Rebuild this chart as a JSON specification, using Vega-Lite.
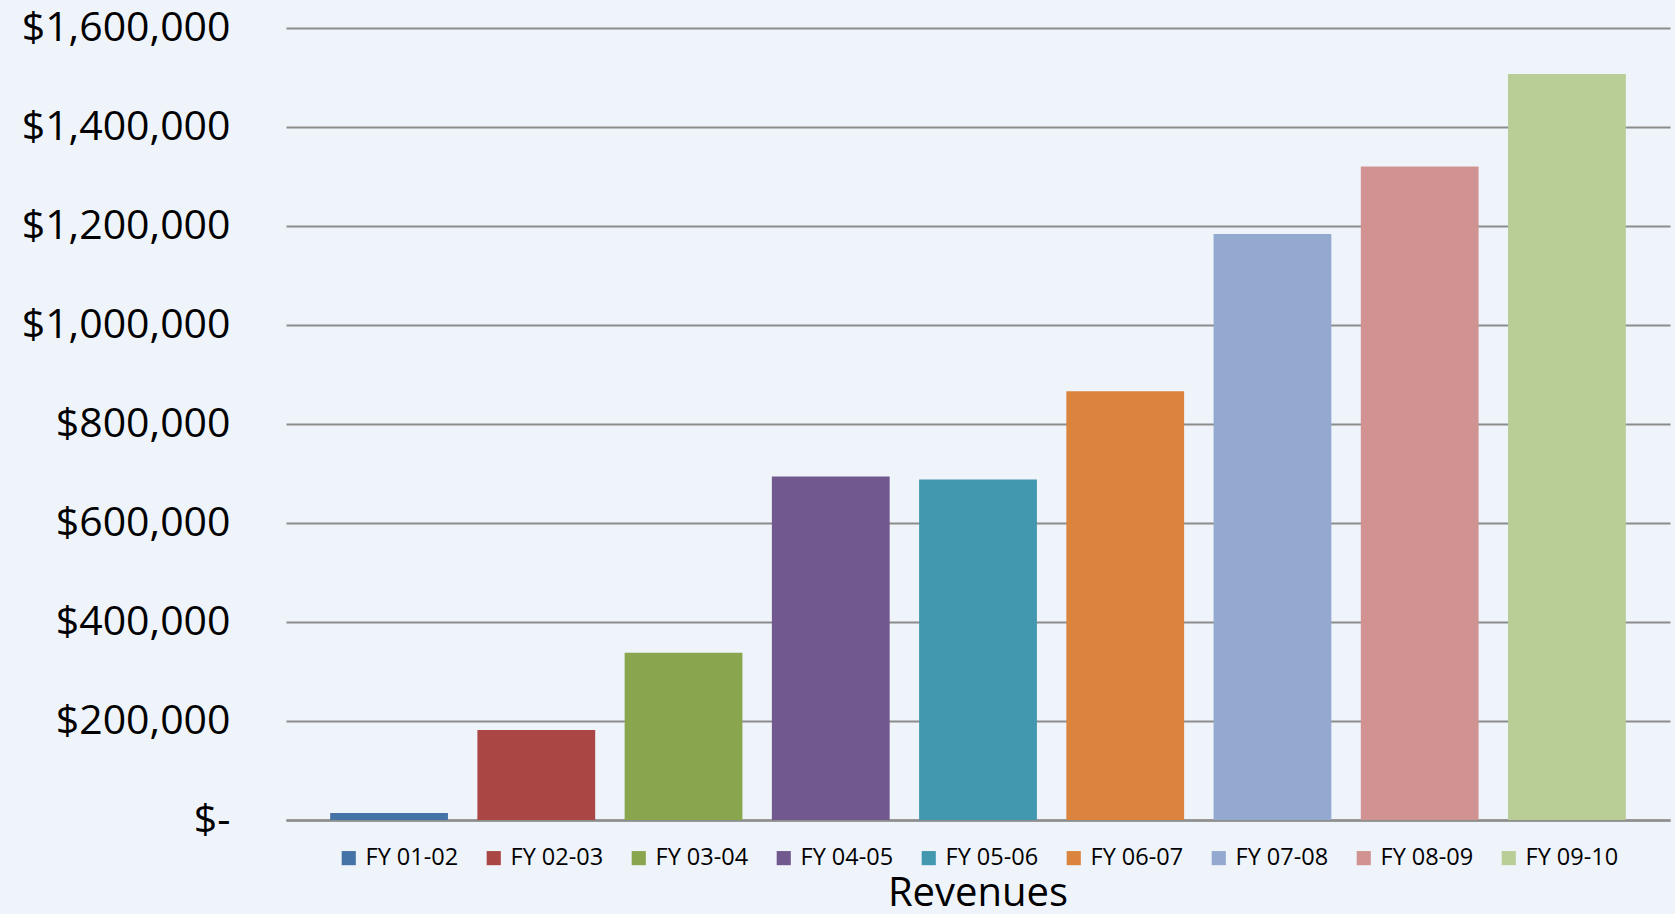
{
  "$schema": "https://vega.github.io/schema/vega-lite/v6.json",
  "autosize": "none",
  "width": 1384,
  "height": 792,
  "padding": {"left": 286, "top": 28, "right": 5, "bottom": 94},
  "background": "#eff4fb",
  "title": {
    "text": "Revenues",
    "orient": "bottom",
    "anchor": "middle",
    "font": "Open Sans",
    "fontSize": 40,
    "fontWeight": "normal",
    "color": "#000000",
    "offset": 4
  },
  "data": {
    "values": [
      {"year": "FY 01-02", "revenue": 14000},
      {"year": "FY 02-03", "revenue": 182000},
      {"year": "FY 03-04", "revenue": 338000},
      {"year": "FY 04-05", "revenue": 694000},
      {"year": "FY 05-06", "revenue": 688000},
      {"year": "FY 06-07", "revenue": 866000},
      {"year": "FY 07-08", "revenue": 1184000},
      {"year": "FY 08-09", "revenue": 1320000},
      {"year": "FY 09-10", "revenue": 1507000}
    ]
  },
  "mark": {"type": "bar"},
  "encoding": {
    "x": {
      "field": "year",
      "type": "nominal",
      "sort": null,
      "scale": {"paddingInner": 0.2, "paddingOuter": 0.3},
      "axis": {
        "labels": false,
        "ticks": false,
        "title": null,
        "domain": true,
        "domainColor": "#8e8e8e",
        "domainWidth": 2.5
      }
    },
    "y": {
      "field": "revenue",
      "type": "quantitative",
      "scale": {"domain": [0, 1600000], "nice": false},
      "axis": {
        "values": [0, 200000, 400000, 600000, 800000, 1000000, 1200000, 1400000, 1600000],
        "labelExpr": "datum.value == 0 ? '$-\u00a0\u00a0' : '$' + format(datum.value, ',')",
        "labelFont": "Open Sans",
        "labelFontSize": 41,
        "labelLimit": 0,
        "labelColor": "#000000",
        "labelPadding": 56,
        "ticks": false,
        "domain": false,
        "grid": true,
        "gridColor": "#8c8c8c",
        "gridWidth": 2,
        "title": null
      }
    },
    "color": {
      "field": "year",
      "type": "nominal",
      "sort": null,
      "scale": {
        "range": ["#4572A7", "#AA4643", "#89A54E", "#71588F", "#4198AF", "#DB843D", "#93A9CF", "#D19392", "#B9CD96"]
      },
      "legend": {
        "orient": "none",
        "legendX": 51,
        "legendY": 818,
        "direction": "horizontal",
        "columns": 9,
        "title": null,
        "symbolType": "square",
        "symbolSize": 200,
        "symbolStrokeWidth": 0,
        "labelFont": "Open Sans",
        "labelFontSize": 23.5,
        "labelColor": "#000000",
        "labelOffset": 5,
        "columnPadding": 23
      }
    }
  },
  "config": {
    "view": {"stroke": null}
  }
}
